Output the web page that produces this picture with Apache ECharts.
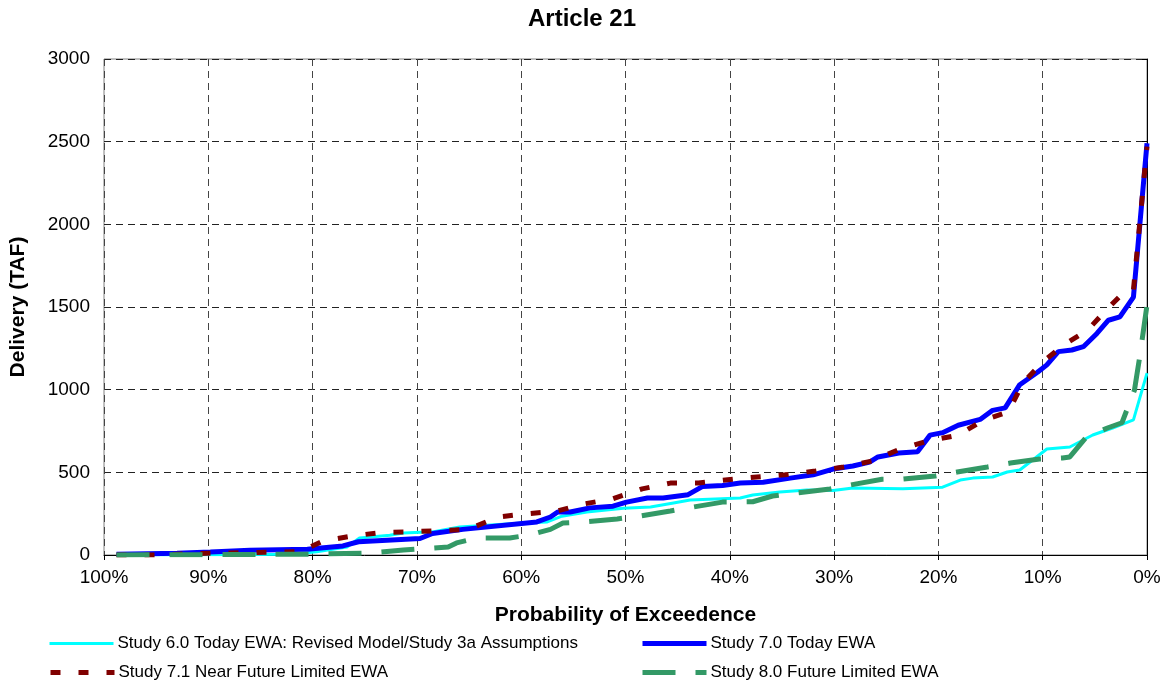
<html lang="en">
  <head>
    <meta charset="UTF-8" />
    <title>Article 21</title>
  </head>
  <body style="margin: 0">
    <div id="main" style="width: 1164px; height: 685px"></div>

    <script src="https://cdn.jsdelivr.net/npm/echarts@6.0.0/dist/echarts.min.js"></script>
    <script>
      // [probability of exceedence %, delivery TAF]
      const study60 = [
        [98.8, 0], [90, 2], [82, 5], [79.6, 20], [76.7, 48], [75.5, 103], [72.6, 120], [71.3, 133],
        [68.5, 140], [65.9, 170], [59.9, 193], [57.5, 200], [56.1, 235], [53.7, 260], [50.2, 283],
        [47.6, 290], [45.4, 315], [43.8, 333], [39, 345], [37.8, 363], [35.2, 381], [32.6, 393],
        [30.1, 390], [28.2, 405], [23.4, 400], [19.6, 410], [17.9, 453], [16.7, 465], [14.8, 472],
        [13.4, 502], [12.2, 514], [9.6, 641], [7.4, 653], [5.2, 726], [3.3, 768], [1.3, 817], [0, 1100]
      ]
      const study70 = [
        [98.8, 5], [93, 10], [89.8, 18], [86, 28], [80.5, 35], [77.1, 55], [75.6, 80], [69.7, 100],
        [68.5, 130], [65.6, 155], [58.5, 200], [57.2, 230], [56.5, 260], [55.3, 260], [53.4, 285],
        [51.2, 295], [49.9, 320], [47.9, 345], [46.4, 345], [44, 365], [42.6, 415], [40.7, 420],
        [39, 435], [36.8, 440], [34.2, 465], [32, 485], [30.1, 520], [28.2, 538], [26.6, 562],
        [25.8, 593], [23.8, 617], [22, 625], [20.8, 725], [19.6, 740], [18.1, 785], [16, 820],
        [14.8, 875], [13.6, 890], [12.2, 1030], [10.5, 1105], [9.6, 1150], [8.5, 1230], [7.2, 1240],
        [6.1, 1260], [4.8, 1340], [3.7, 1420], [2.6, 1440], [1.3, 1560], [0, 2490]
      ]
      const study71 = [
        [98.8, 0], [95.4, 0], [90, 10], [81.2, 20], [79, 85], [76.2, 115], [73.3, 137], [70.7, 140],
        [68, 147], [65.1, 155], [62.2, 230], [59.4, 250], [56.6, 265], [53.9, 310], [51.2, 340],
        [48.4, 400], [45.7, 435], [43, 435], [40.2, 455], [37.4, 472], [34.7, 485], [31.8, 508],
        [29.1, 532], [26.4, 568], [23.9, 635], [21, 690], [18.1, 725], [15.7, 815], [13.3, 865],
        [11.9, 1040], [10, 1167], [7.9, 1275], [5.7, 1360], [3.7, 1495], [2.1, 1597], [1.3, 1603],
        [0, 2470]
      ]
      const study80 = [
        [98.8, 0], [80, 5], [74.5, 12], [71.3, 30], [69.4, 38], [67, 48], [66.2, 73], [64.2, 103],
        [61.1, 103], [59.2, 121], [57.2, 155], [56, 194], [53.9, 200], [50.8, 218], [48.9, 233],
        [45.7, 266], [43.8, 287], [40.7, 320], [37.8, 322], [35.9, 357], [33.6, 375], [30.4, 399],
        [28.5, 423], [25.4, 458], [23.4, 460], [20.3, 478], [18.2, 502], [15.3, 532], [13.1, 556],
        [10.3, 581], [8.1, 587], [7.4, 593], [5.8, 714], [3.8, 768], [2.4, 800], [1.2, 998],
        [0.7, 1198], [0, 1512]
      ]
      const seriesNames = [
        'Study 6.0 Today EWA: Revised Model/Study 3a Assumptions',
        'Study 7.0 Today EWA',
        'Study 7.1 Near Future Limited EWA',
        'Study 8.0 Future Limited EWA'
      ]

      const font = 'Liberation Sans, Arial, sans-serif'
      let mCharts = echarts.init(document.querySelector('#main'))

      // one legend per item so the 2x2 layout can be placed like the original
      function legendAt(name, left, top, lineWidth) {
        return {
          data: [name],
          left: left,
          top: top,
          itemWidth: 64,
          itemHeight: 12,
          itemGap: 4,
          padding: 0,
          selectedMode: false,
          itemStyle: { opacity: 0 },
          lineStyle: { width: lineWidth },
          textStyle: { fontFamily: font, fontSize: 17, color: '#000', padding: [0, 0, 0, -1] }
        }
      }

      let option = {
        animation: false,
        backgroundColor: '#fff',
        title: {
          text: 'Article 21',
          left: 'center',
          top: 7,
          padding: 0,
          textStyle: { fontFamily: font, fontSize: 24, fontWeight: 'bold', color: '#000' }
        },
        legend: [
          legendAt(seriesNames[0], 48, 635, 3),
          legendAt(seriesNames[1], 640, 635, 5),
          legendAt(seriesNames[2], 48, 664, 5),
          legendAt(seriesNames[3], 640, 664, 5)
        ],
        grid: {
          left: 104,
          right: 17,
          top: 59,
          bottom: 130,
          show: true,
          borderColor: '#808080',
          borderWidth: 1
        },
        xAxis: {
          type: 'value',
          min: 0,
          max: 100,
          interval: 10,
          inverse: true,
          name: 'Probability of Exceedence',
          nameLocation: 'middle',
          nameGap: 50,
          nameTextStyle: { fontFamily: font, fontSize: 21, fontWeight: 'bold', color: '#000' },
          axisLine: { show: true, lineStyle: { color: '#000', width: 1 } },
          axisTick: { show: true, inside: false, length: 5, lineStyle: { color: '#000' } },
          axisLabel: { fontFamily: font, fontSize: 19, color: '#000', margin: 13, formatter: (v) => v + '%' },
          splitLine: { show: true, lineStyle: { color: '#444', type: [7, 5], width: 1 } }
        },
        yAxis: {
          type: 'value',
          min: 0,
          max: 3000,
          interval: 500,
          name: 'Delivery (TAF)',
          nameLocation: 'middle',
          nameGap: 75,
          nameTextStyle: { fontFamily: font, fontSize: 21, fontWeight: 'bold', color: '#000' },
          axisLine: { show: true, lineStyle: { color: '#000', width: 1 } },
          axisTick: { show: true, inside: false, length: 5, lineStyle: { color: '#000' } },
          axisLabel: { fontFamily: font, fontSize: 19, color: '#000', margin: 14, formatter: (v) => String(v) },
          splitLine: { show: true, lineStyle: { color: '#222', type: [7, 5], width: 1 } }
        },
        series: [
          {
            name: seriesNames[0],
            type: 'line',
            symbol: 'none',
            data: study60,
            itemStyle: { color: '#00FFFF' },
            lineStyle: { color: '#00FFFF', width: 3 },
            z: 2
          },
          {
            name: seriesNames[1],
            type: 'line',
            symbol: 'none',
            data: study70,
            itemStyle: { color: '#0000FF' },
            lineStyle: { color: '#0000FF', width: 5 },
            z: 3
          },
          {
            name: seriesNames[2],
            type: 'line',
            symbol: 'none',
            data: study71,
            itemStyle: { color: '#800000' },
            lineStyle: { color: '#800000', width: 5, type: [10, 18] },
            z: 4
          },
          {
            name: seriesNames[3],
            type: 'line',
            symbol: 'none',
            data: study80,
            itemStyle: { color: '#339966' },
            lineStyle: { color: '#339966', width: 5, type: [33, 20] },
            z: 5
          }
        ]
      }
      mCharts.setOption(option)
    </script>
  </body>
</html>
